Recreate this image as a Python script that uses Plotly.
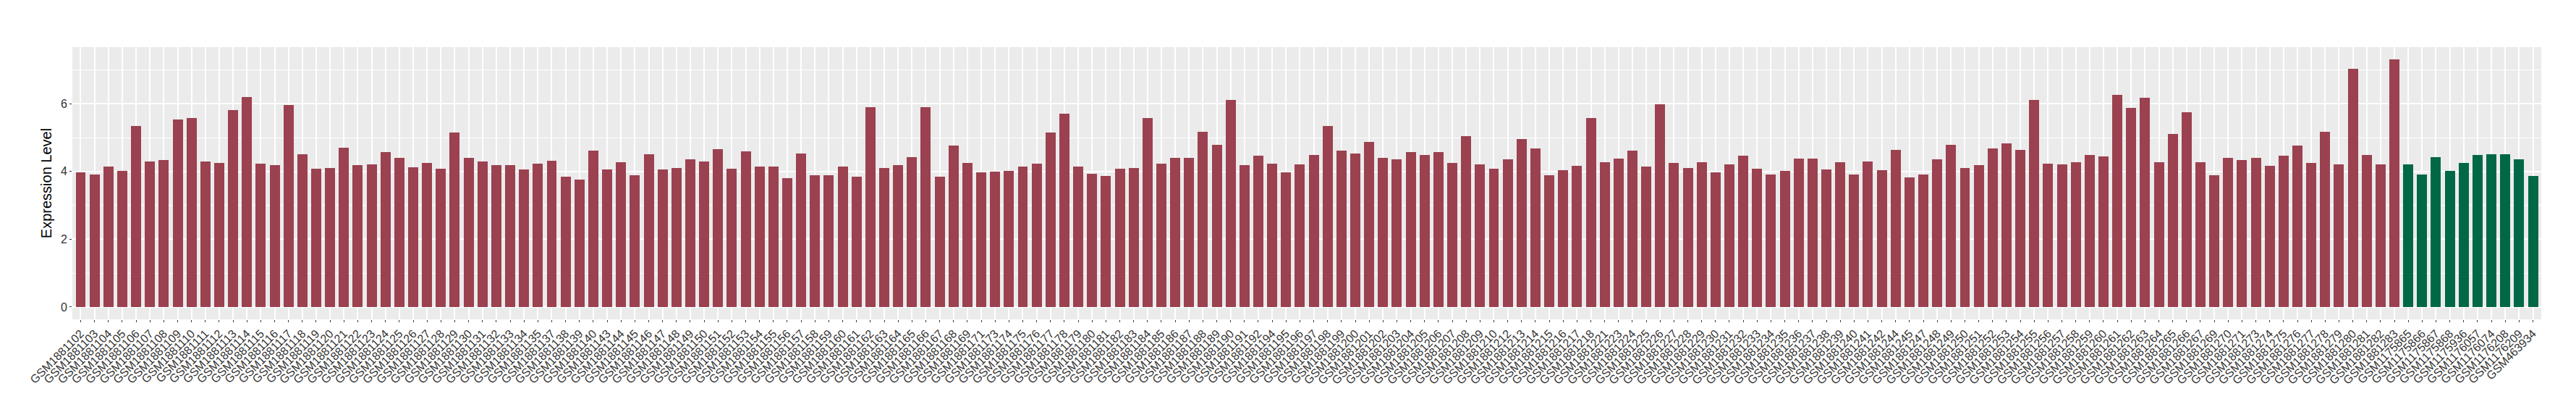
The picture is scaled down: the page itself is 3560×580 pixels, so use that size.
import plotly.graph_objects as go

samples = [
    "GSM1881102", "GSM1881103", "GSM1881104", "GSM1881105", "GSM1881106", "GSM1881107", "GSM1881108", "GSM1881109",
    "GSM1881110", "GSM1881111", "GSM1881112", "GSM1881113", "GSM1881114", "GSM1881115", "GSM1881116", "GSM1881117",
    "GSM1881118", "GSM1881119", "GSM1881120", "GSM1881121", "GSM1881122", "GSM1881123", "GSM1881124", "GSM1881125",
    "GSM1881126", "GSM1881127", "GSM1881128", "GSM1881129", "GSM1881130", "GSM1881131", "GSM1881132", "GSM1881133",
    "GSM1881134", "GSM1881135", "GSM1881137", "GSM1881138", "GSM1881139", "GSM1881140", "GSM1881143", "GSM1881144",
    "GSM1881145", "GSM1881146", "GSM1881147", "GSM1881148", "GSM1881149", "GSM1881150", "GSM1881151", "GSM1881152",
    "GSM1881153", "GSM1881154", "GSM1881155", "GSM1881156", "GSM1881157", "GSM1881158", "GSM1881159", "GSM1881160",
    "GSM1881161", "GSM1881162", "GSM1881163", "GSM1881164", "GSM1881165", "GSM1881166", "GSM1881167", "GSM1881168",
    "GSM1881169", "GSM1881171", "GSM1881173", "GSM1881174", "GSM1881175", "GSM1881176", "GSM1881177", "GSM1881178",
    "GSM1881179", "GSM1881180", "GSM1881181", "GSM1881182", "GSM1881183", "GSM1881184", "GSM1881185", "GSM1881186",
    "GSM1881187", "GSM1881188", "GSM1881189", "GSM1881190", "GSM1881191", "GSM1881192", "GSM1881194", "GSM1881195",
    "GSM1881196", "GSM1881197", "GSM1881198", "GSM1881199", "GSM1881200", "GSM1881201", "GSM1881202", "GSM1881203",
    "GSM1881204", "GSM1881205", "GSM1881206", "GSM1881207", "GSM1881208", "GSM1881209", "GSM1881210", "GSM1881212",
    "GSM1881213", "GSM1881214", "GSM1881215", "GSM1881216", "GSM1881217", "GSM1881218", "GSM1881221", "GSM1881223",
    "GSM1881224", "GSM1881225", "GSM1881226", "GSM1881227", "GSM1881228", "GSM1881229", "GSM1881230", "GSM1881231",
    "GSM1881232", "GSM1881233", "GSM1881234", "GSM1881235", "GSM1881236", "GSM1881237", "GSM1881238", "GSM1881239",
    "GSM1881240", "GSM1881241", "GSM1881242", "GSM1881244", "GSM1881245", "GSM1881247", "GSM1881248", "GSM1881249",
    "GSM1881250", "GSM1881251", "GSM1881252", "GSM1881253", "GSM1881254", "GSM1881255", "GSM1881256", "GSM1881257",
    "GSM1881258", "GSM1881259", "GSM1881260", "GSM1881261", "GSM1881262", "GSM1881263", "GSM1881264", "GSM1881265",
    "GSM1881266", "GSM1881267", "GSM1881269", "GSM1881270", "GSM1881271", "GSM1881273", "GSM1881274", "GSM1881275",
    "GSM1881276", "GSM1881277", "GSM1881278", "GSM1881279", "GSM1881280", "GSM1881281", "GSM1881282", "GSM1881283",
    "GSM1175865", "GSM1175866", "GSM1175867", "GSM1175868", "GSM1175936", "GSM1176057", "GSM1176074", "GSM1176208",
    "GSM1176209", "GSM463934",
]

expression = [
    3.98, 3.91, 4.15, 4.02, 5.34, 4.30, 4.34, 5.54,
    5.58, 4.30, 4.25, 5.82, 6.20, 4.24, 4.19, 5.97,
    4.51, 4.09, 4.10, 4.70, 4.19, 4.21, 4.58, 4.40,
    4.13, 4.25, 4.09, 5.15, 4.40, 4.30, 4.19, 4.19,
    4.06, 4.24, 4.32, 3.85, 3.76, 4.62, 4.06, 4.28,
    3.89, 4.51, 4.06, 4.10, 4.36, 4.30, 4.66, 4.09,
    4.60, 4.15, 4.15, 3.81, 4.53, 3.89, 3.89, 4.15,
    3.85, 5.91, 4.10, 4.19, 4.43, 5.91, 3.85, 4.77,
    4.25, 3.98, 4.00, 4.02, 4.15, 4.24, 5.15, 5.71,
    4.15, 3.94, 3.87, 4.09, 4.10, 5.58, 4.24, 4.40,
    4.40, 5.18, 4.79, 6.12, 4.19, 4.47, 4.24, 3.98,
    4.21, 4.49, 5.34, 4.62, 4.53, 4.88, 4.40, 4.36,
    4.58, 4.49, 4.58, 4.25, 5.04, 4.21, 4.09, 4.36,
    4.96, 4.68, 3.89, 4.04, 4.17, 5.58, 4.28, 4.39,
    4.62, 4.15, 5.98, 4.25, 4.10, 4.28, 3.98, 4.21,
    4.47, 4.09, 3.91, 4.02, 4.39, 4.39, 4.06, 4.28,
    3.91, 4.30, 4.04, 4.64, 3.83, 3.91, 4.36, 4.79,
    4.10, 4.19, 4.68, 4.83, 4.64, 6.12, 4.24, 4.21,
    4.28, 4.49, 4.45, 6.26, 5.88, 6.18, 4.28, 5.11,
    5.75, 4.28, 3.89, 4.40, 4.34, 4.40, 4.17, 4.47,
    4.77, 4.25, 5.18, 4.21, 7.04, 4.49, 4.21, 7.31,
    4.21, 3.91, 4.43, 4.02, 4.25, 4.49, 4.51, 4.51,
    4.36, 3.87,
]

groups = ["case"] * 168 + ["control"] * 10
group_colors = {"case": "#9B4150", "control": "#006847"}

colors = [group_colors[g] for g in groups]
n = len(samples)

fig = go.Figure()
fig.add_trace(go.Bar(
    x=samples, y=expression, width=0.73,
    marker=dict(color=colors, line=dict(width=0)),
    showlegend=False,
))

ymax = max(expression)
pad = 0.05 * ymax

fig.update_layout(
    width=3560, height=580, autosize=False,
    margin=dict(l=92, r=56, t=57, b=147),
    paper_bgcolor="white", plot_bgcolor="#EBEBEB",
    font=dict(family="Liberation Sans, Arial, sans-serif"),
    bargap=0,
)
fig.update_xaxes(
    type="category", range=[-0.6, n - 1 + 0.6], automargin=False,
    tickangle=-45, ticks="outside", ticklen=3, tickwidth=1, tickcolor="#333333",
    tickfont=dict(size=16, color="#333333"),
    showgrid=True, gridcolor="white", gridwidth=2,
    showline=False, zeroline=False,
)
fig.update_yaxes(
    range=[-pad, ymax + pad], automargin=False,
    tickvals=[0, 2, 4, 6], ticktext=["0", "2", "4", "6"],
    ticks="outside", ticklen=3, tickwidth=1, tickcolor="#333333",
    tickfont=dict(size=16, color="#333333"),
    showgrid=True, gridcolor="white", gridwidth=2,
    minor=dict(tickvals=[1, 3, 5, 7], showgrid=True, gridcolor="white", gridwidth=1, ticks=""),
    zeroline=False, showline=False,
    title=dict(text="Expression Level", font=dict(size=20, color="black"), standoff=6),
)

fig.write_html("out.html")
